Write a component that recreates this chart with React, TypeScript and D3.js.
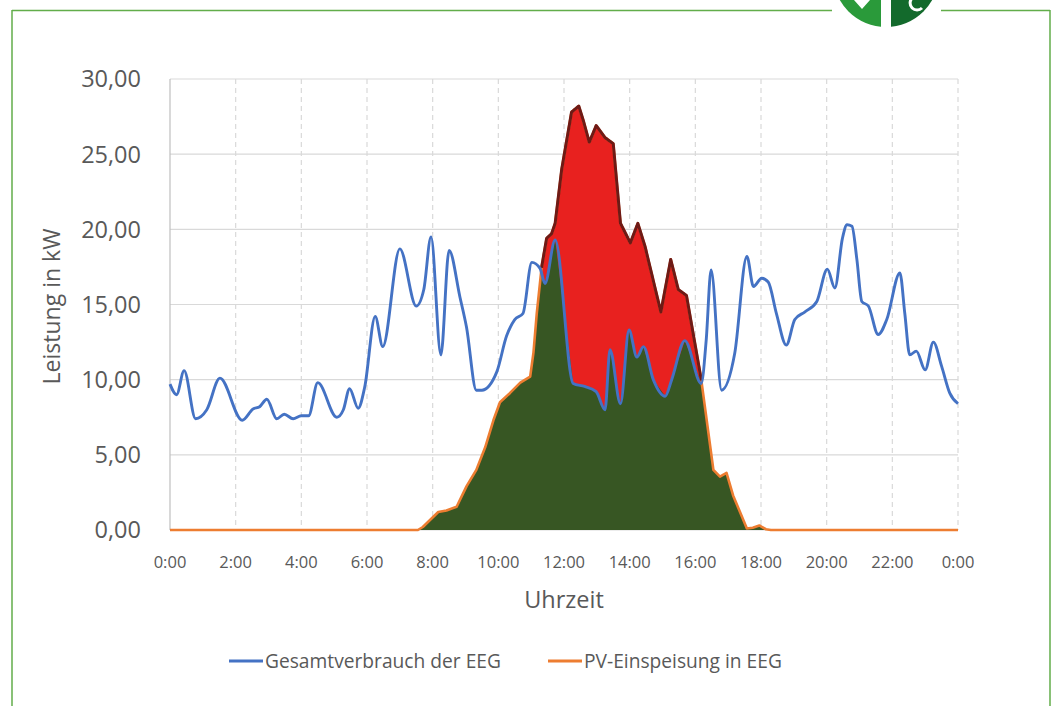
import React from "react";
import * as d3 from "d3";

const consHours = [
  0.0, 0.2, 0.43, 0.78, 1.12, 1.52, 2.2, 2.53, 2.73, 2.95, 3.25, 3.48, 3.75, 4.0, 4.22, 4.5,
  5.08, 5.28, 5.47, 5.73, 5.93, 6.25, 6.48, 7.0, 7.5, 7.73, 7.95, 8.25, 8.5, 8.83, 9.03, 9.33,
  9.5, 9.95, 10.25, 10.5, 10.75, 11.02, 11.27, 11.42, 11.73, 12.28, 12.63, 12.98, 13.25, 13.4,
  13.72, 13.98, 14.22, 14.42, 14.72, 15.08, 15.28, 15.68, 16.18, 16.33, 16.48, 16.8, 17.2, 17.57,
  17.77, 18.02, 18.22, 18.47, 18.77, 19.03, 19.33, 19.7, 20.02, 20.25, 20.48, 20.62, 20.77, 20.92,
  21.07, 21.27, 21.57, 21.83, 22.23, 22.38, 22.53, 22.73, 23.0, 23.25, 23.5, 23.75, 24.0,
];
const consKW = [
  9.7, 9.0, 10.6, 7.4, 8.0, 10.1, 7.3, 8.05, 8.2, 8.7, 7.4, 7.7, 7.4, 7.6, 7.6, 9.8,
  7.5, 8.0, 9.4, 8.1, 9.5, 14.2, 12.2, 18.7, 14.9, 16.0, 19.5, 11.65, 18.6, 15.5, 13.5, 9.3,
  9.3, 10.5, 12.9, 14.0, 14.4, 17.8, 17.4, 16.4, 19.3, 9.75, 9.55, 9.2, 8.0, 12.0,
  8.4, 13.3, 11.5, 12.2, 10.0, 8.9, 10.0, 12.6, 9.75, 12.6, 17.3, 9.3, 11.75, 18.2,
  16.2, 16.75, 16.5, 14.4, 12.3, 14.0, 14.5, 15.2, 17.35, 16.1, 19.4, 20.3, 20.2, 18.0,
  15.2, 14.9, 13.0, 14.0, 17.1, 14.4, 11.65, 11.9, 10.65, 12.5, 10.9, 9.1, 8.4,
];

const pvHours = [
  0.0, 7.55, 7.7, 8.17, 8.42, 8.73, 9.03, 9.33, 9.6, 9.85, 10.05, 10.35, 10.67, 10.97, 11.07,
  11.17, 11.32, 11.47, 11.62, 11.73, 11.93, 12.23, 12.45, 12.58, 12.77, 12.98, 13.25, 13.5,
  13.72, 14.02, 14.25, 14.47, 14.95, 15.25, 15.48, 15.73, 16.18, 16.55, 16.75, 16.95, 17.15,
  17.57, 17.75, 17.95, 18.15, 18.3, 24.0,
];
const pvKW = [
  0.0, 0.0, 0.2, 1.2, 1.3, 1.55, 2.9, 4.0, 5.5, 7.3, 8.5, 9.1, 9.8, 10.2, 11.8,
  14.4, 17.5, 19.4, 19.7, 20.4, 24.0, 27.8, 28.2, 27.3, 25.8, 26.9, 26.1, 25.7,
  20.4, 19.1, 20.4, 18.85, 14.5, 18.0, 16.0, 15.6, 10.0, 4.0, 3.55, 3.8, 2.3,
  0.1, 0.15, 0.3, 0.05, 0.0, 0.0,
];

const xTickLabels = [
  "0:00", "2:00", "4:00", "6:00", "8:00", "10:00", "12:00", "14:00", "16:00", "18:00", "20:00", "22:00", "0:00",
];
const yTickValues = [0, 5, 10, 15, 20, 25, 30];
const seriesNames = ["Gesamtverbrauch der EEG", "PV-Einspeisung in EEG"];
const xAxisTitle = "Uhrzeit";
const yAxisTitle = "Leistung in kW";

type Pt = { h: number; v: number };

function interp(arr: Pt[], t: number): number {
  if (t <= arr[0].h) return arr[0].v;
  for (let i = 0; i < arr.length - 1; i++) {
    const a = arr[i], b = arr[i + 1];
    if (t >= a.h && t <= b.h) {
      if (b.h === a.h) return b.v;
      return a.v + ((t - a.h) / (b.h - a.h)) * (b.v - a.v);
    }
  }
  return arr[arr.length - 1].v;
}

export default function App() {
  const W = 1054, H = 706;
  const left = 170, right = 958, top = 79, bottom = 530;
  const x = d3.scaleLinear().domain([0, 24]).range([left, right]);
  const y = d3.scaleLinear().domain([0, 30]).range([bottom, top]);

  const cons: Pt[] = consHours.map((h, i) => ({ h, v: consKW[i] }));
  const pv: Pt[] = pvHours.map((h, i) => ({ h, v: pvKW[i] }));

  const grid = d3.range(0, 24 * 60 + 1).map((m) => m / 60);
  const tset = Array.from(new Set([...grid, ...pvHours])).sort((a, b) => a - b);
  const minPts: Pt[] = tset.map((t) => ({ h: t, v: Math.min(interp(pv, t), interp(cons, t)) }));
  const excessPts = tset.map((t) => {
    const p = interp(pv, t);
    const c = interp(cons, t);
    return { h: t, v: p, d: p > c + 0.05 && p > 0.5 };
  });

  const area = d3.area<Pt>().x((d) => x(d.h)).y0(y(0)).y1((d) => y(d.v));
  const linLine = d3.line<Pt>().x((d) => x(d.h)).y((d) => y(d.v));
  const excessLine = d3
    .line<{ h: number; v: number; d: boolean }>()
    .defined((d) => d.d)
    .x((d) => x(d.h))
    .y((d) => y(d.v));
  const smoothLine = d3.line<Pt>().curve(d3.curveMonotoneX).x((d) => x(d.h)).y((d) => y(d.v));

  const fmtY = (v: number) => d3.format(".2f")(v).replace(".", ",");
  const font = "'Open Sans', 'Noto Sans', sans-serif";
  const textColor = "#595959";
  const gridColor = "#d9d9d9";
  const blue = "#4472c4";
  const orange = "#ed7d31";
  const red = "#e8211f";
  const darkRed = "#6e1a16";
  const green = "#375623";
  const frame = "#62ad4a";

  // logo
  const lcx = 886, lcy = -26, lr = 53;
  const leftArc = d3.arc()({ innerRadius: 0, outerRadius: lr, startAngle: Math.PI, endAngle: 2 * Math.PI }) as string;
  const rightArc = d3.arc()({ innerRadius: 0, outerRadius: lr, startAngle: 0, endAngle: Math.PI }) as string;

  return (
    <svg width={W} height={H} style={{ position: "absolute", left: 0, top: 0, background: "#fff" }}>
      <rect x={0} y={0} width={W} height={H} fill="#fff" />
      {/* frame */}
      <line x1={12} y1={10.5} x2={832} y2={10.5} stroke={frame} strokeWidth={1.5} />
      <line x1={941} y1={10.5} x2={1050} y2={10.5} stroke={frame} strokeWidth={1.5} />
      <line x1={12} y1={10} x2={12} y2={H} stroke={frame} strokeWidth={1.5} />
      <line x1={1050} y1={10} x2={1050} y2={H} stroke={frame} strokeWidth={1.5} />
      {/* logo */}
      <g transform={`translate(${lcx},${lcy})`}>
        <path d={leftArc} fill="#2a9a3a" />
        <path d={rightArc} fill="#136a2c" />
        <rect x={-5} y={-lr} width={10} height={lr * 2} fill="#fff" />
        <path d="M-32,26 q4,-6 8,0 q4,-6 8,0 l-8,9 z" fill="#fff" />
        <path d="M36,24 a7,7 0 1,0 0,10" stroke="#fff" strokeWidth={3} fill="none" />
      </g>

      {/* gridlines */}
      {yTickValues.map((v) => (
        <line key={"gy" + v} x1={left} x2={right} y1={y(v)} y2={y(v)} stroke={gridColor} strokeWidth={1.2} />
      ))}
      {xTickLabels.map((_, i) =>
        i === 0 ? null : (
          <line key={"gx" + i} x1={x(i * 2)} x2={x(i * 2)} y1={top} y2={bottom} stroke={gridColor} strokeWidth={1.2} strokeDasharray="5,4" />
        )
      )}
      <line x1={left} x2={left} y1={top} y2={bottom} stroke="#bfbfbf" strokeWidth={1.2} />

      {/* areas */}
      <path d={area(pv) as string} fill={red} />
      <path d={area(minPts) as string} fill={green} />
      <path d={linLine(pv) as string} fill="none" stroke={orange} strokeWidth={2.6} strokeLinejoin="round" />
      <path d={excessLine(excessPts) as string} fill="none" stroke={darkRed} strokeWidth={3} strokeLinejoin="round" />
      <path d={smoothLine(cons) as string} fill="none" stroke={blue} strokeWidth={2.9} strokeLinejoin="round" />

      {/* y ticks */}
      {yTickValues.map((v) => (
        <text key={"ty" + v} x={141} y={y(v)} dy="0.36em" textAnchor="end" fontFamily={font} fontSize={23.5} fill={textColor}>
          {fmtY(v)}
        </text>
      ))}
      {/* x ticks */}
      {xTickLabels.map((lab, i) => (
        <text key={"tx" + i} x={x(i * 2)} y={562} dy="0.36em" textAnchor="middle" fontFamily={font} fontSize={16.5} fill={textColor}>
          {lab}
        </text>
      ))}
      <text x={(left + right) / 2} y={600} dy="0.36em" textAnchor="middle" fontFamily={font} fontSize={23.5} fill={textColor}>
        {xAxisTitle}
      </text>
      <text
        transform={`translate(52,${(top + bottom) / 2 + 2}) rotate(-90)`}
        textAnchor="middle"
        dy="0.36em"
        fontFamily={font}
        fontSize={23}
        fill={textColor}
      >
        {yAxisTitle}
      </text>

      {/* legend */}
      <line x1={229} x2={263} y1={661} y2={661} stroke={blue} strokeWidth={3} />
      <text x={265} y={661} dy="0.36em" fontFamily={font} fontSize={19.2} fill={textColor}>
        {seriesNames[0]}
      </text>
      <line x1={548} x2={582} y1={661} y2={661} stroke={orange} strokeWidth={3} />
      <text x={584} y={661} dy="0.36em" fontFamily={font} fontSize={19.2} fill={textColor}>
        {seriesNames[1]}
      </text>
    </svg>
  );
}
